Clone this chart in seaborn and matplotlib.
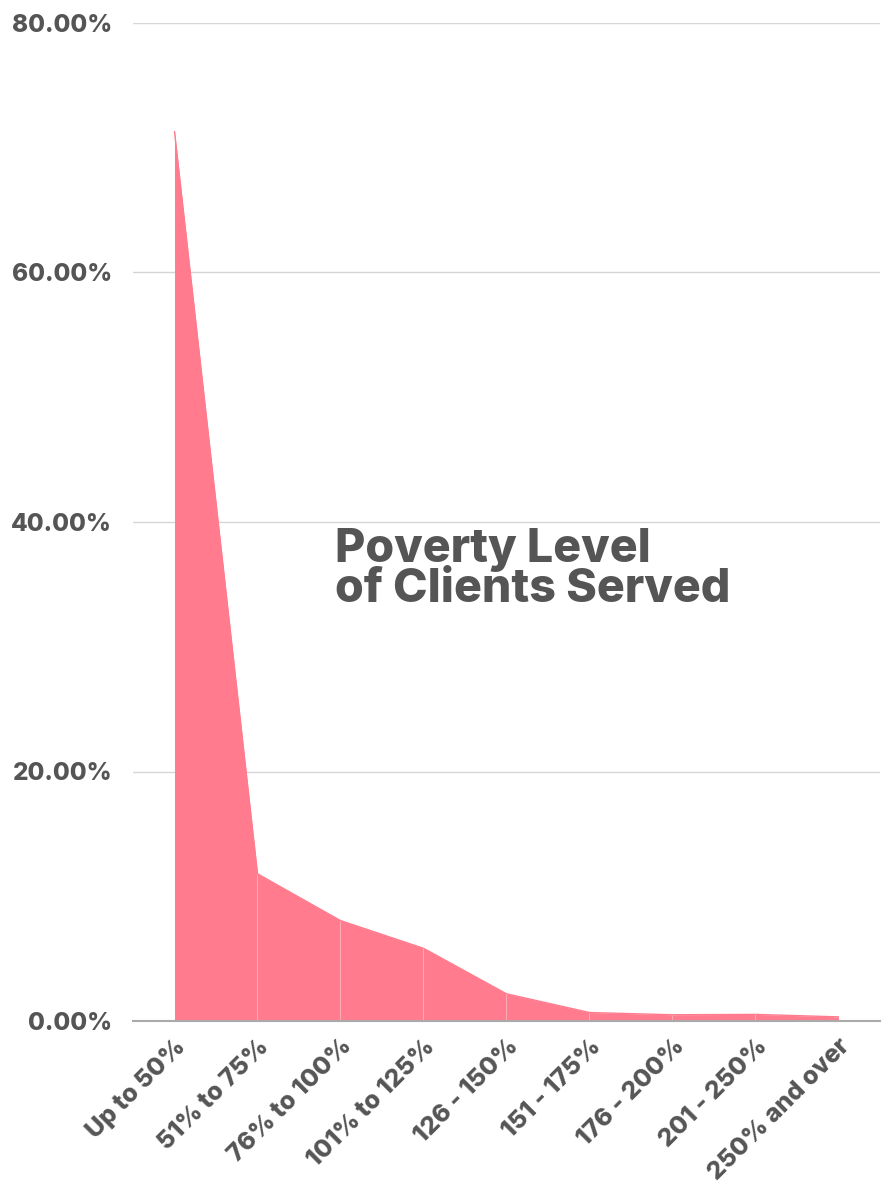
import matplotlib
matplotlib.use("Agg")
import matplotlib.pyplot as plt
import seaborn as sns
import numpy as np
import pandas as pd
from matplotlib.ticker import FuncFormatter

categories = ["Up to 50%", "51% to 75%", "76% to 100%", "101% to 125%", "126 - 150%",
              "151 - 175%", "176 - 200%", "201 - 250%", "250% and over"]
values = [71.3, 11.8, 8.05, 5.83, 2.18, 0.68, 0.5, 0.53, 0.33]
yticks = [0, 20, 40, 60, 80]
title = "Poverty Level\nof Clients Served"

sns.set_theme(style="white")
plt.rcParams['font.family'] = ['Inter', 'DejaVu Sans']

df = pd.DataFrame({"cat": categories, "val": values, "x": np.arange(len(categories))})

fig = plt.figure(figsize=(8.87, 11.91), dpi=100)
ax = fig.add_axes([133/887, 1 - 1021/1191, (880-133)/887, (1021-23)/1191])

color = "#FF7B8D"
sns.lineplot(data=df, x="x", y="val", ax=ax, color=color, linewidth=1.0)
ax.fill_between(df["x"], 0, df["val"], color=color, linewidth=0, zorder=2)
ax.vlines(df["x"][1:-1], 0, df["val"][1:-1], color="white", alpha=0.35, linewidth=0.8, zorder=3)

ax.set_xlim(-0.5, len(categories) - 0.5)
ax.set_ylim(0, 80)
ax.set_yticks(yticks)
ax.yaxis.set_major_formatter(FuncFormatter(lambda v, p: f"{v:.2f}%"))
ax.set_xticks(df["x"])
ax.set_xticklabels(categories, rotation=45, ha="right", rotation_mode="anchor")
ax.grid(axis="y", color="#d6d6d6", linewidth=1.0, zorder=0)
ax.set_axisbelow(True)
for s in ["top", "right", "left"]:
    ax.spines[s].set_visible(False)
ax.spines["bottom"].set_color("#aaaaaa")
ax.spines["bottom"].set_linewidth(1.5)
ax.spines["bottom"].set_zorder(4)
ax.tick_params(axis="y", length=0, pad=15, labelsize=17.5, labelcolor="#555555")
ax.tick_params(axis="x", length=0, pad=10, labelsize=18, labelcolor="#555555")
for lbl in ax.get_yticklabels() + ax.get_xticklabels():
    lbl.set_fontweight("heavy")
ax.set_xlabel("")
ax.set_ylabel("")

ax.text(335/887, 1 - 528/1191, title, transform=fig.transFigure, fontsize=33.5,
        fontweight="heavy", color="#555555", va="top", ha="left", linespacing=0.88)

fig.savefig("out.png", dpi=100)
